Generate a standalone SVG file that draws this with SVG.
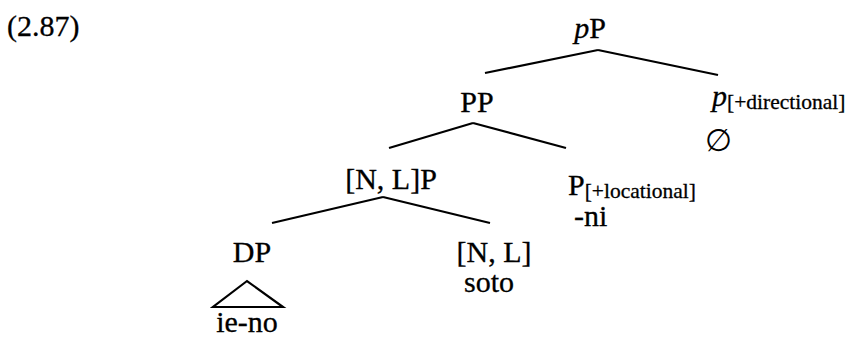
<svg xmlns="http://www.w3.org/2000/svg" width="852" height="338" viewBox="0 0 852 338">
<style>
text{font-family:"Liberation Serif","Times New Roman",serif;font-size:30px;fill:#000;stroke:#000;stroke-width:0.3}
.sub{font-size:21.5px}
.it{font-style:italic}
.c{text-anchor:middle}
line,polygon{stroke:#000;stroke-width:2.2;fill:none}
</style>
<rect width="852" height="338" fill="#fff"/>
<text id="label" x="7" y="36">(2.87)</text>
<g id="pP"><text class="c" x="590" y="38"><tspan class="it">p</tspan>P</text></g>
<g id="PP"><text class="c" x="477" y="112">PP</text></g>
<g id="p-dir"><text x="712" y="106"><tspan class="it">p</tspan><tspan class="sub" dy="3">[+directional]</tspan></text><text x="705" y="151" style="font-family:'DejaVu Serif','Liberation Serif',serif;font-size:31px;stroke-width:0">∅</text></g>
<g id="NLP"><text class="c" x="391" y="189">[N, L]P</text></g>
<g id="P-loc"><text x="568" y="195">P<tspan class="sub" dy="3">[+locational]</tspan></text><text x="574" y="226">-ni</text></g>
<g id="DP"><text class="c" x="252" y="262">DP</text><polygon points="247,281 213,307 283,307"/><text class="c" x="247" y="332">ie-no</text></g>
<g id="NL"><text class="c" x="494" y="262">[N, L]</text><text class="c" x="489" y="292">soto</text></g>
<g id="connectors">
<line x1="598" y1="50" x2="485" y2="73"/>
<line x1="598" y1="50" x2="718" y2="75"/>
<line x1="473" y1="123" x2="389" y2="148"/>
<line x1="473" y1="123" x2="566" y2="148"/>
<line x1="383" y1="197" x2="272" y2="223"/>
<line x1="383" y1="197" x2="490" y2="223"/>
</g>
</svg>
